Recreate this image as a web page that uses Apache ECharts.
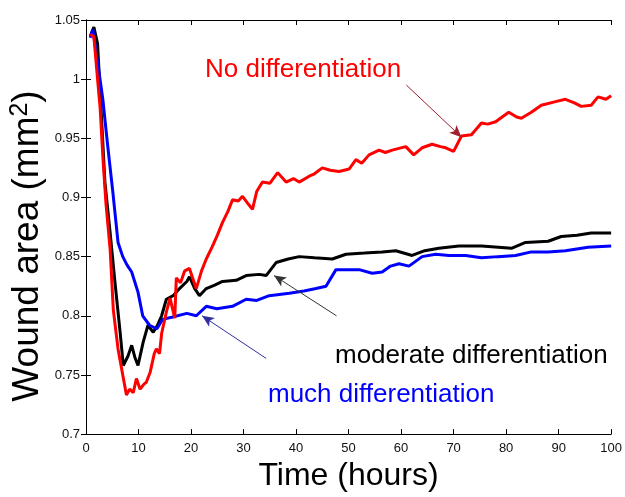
<!DOCTYPE html>
<html>
<head>
<meta charset="utf-8">
<script src="https://cdn.jsdelivr.net/npm/echarts@6/dist/echarts.min.js"></script>
<style>
  html, body { margin: 0; padding: 0; background: #fff; }
  #chart { width: 625px; height: 497px; }
</style>
</head>
<body>
<div id="chart"></div>
<script>
// wound area over time
var timeRed = [0.8,1.5,2.2,2.7,3.2,3.8,4.6,5.2,6.1,7.0,7.7,8.3,9.0,9.6,10.3,11.0,11.5,12.2,13.0,13.4,14.0,14.4,15.3,16.0,16.9,17.2,18.0,18.8,19.7,20.3,21.0,22.0,22.9,24.0,25.0,26.0,27.0,27.9,29.0,29.8,30.8,31.7,32.5,33.6,35.0,36.5,38.1,39.5,40.6,42.5,43.5,45.0,46.5,48.2,50.1,51.4,52.5,53.9,55.8,57.0,58.3,60.9,62.4,64.0,65.9,67.5,68.5,70.0,71.5,73.4,75.3,76.5,78.0,80.5,82.0,82.9,84.8,86.7,89.4,91.3,93.0,94.3,96.2,97.5,99.0,100];
var areaRed = [1.038,1.036,1.0,0.975,0.935,0.895,0.856,0.805,0.772,0.75,0.733,0.738,0.735,0.747,0.738,0.742,0.744,0.752,0.768,0.772,0.768,0.785,0.803,0.815,0.798,0.832,0.828,0.838,0.840,0.832,0.823,0.838,0.848,0.858,0.868,0.879,0.888,0.898,0.897,0.901,0.895,0.89,0.905,0.913,0.912,0.921,0.913,0.916,0.913,0.918,0.92,0.925,0.923,0.922,0.924,0.932,0.929,0.936,0.94,0.938,0.94,0.943,0.936,0.942,0.945,0.943,0.942,0.939,0.952,0.953,0.963,0.962,0.964,0.972,0.968,0.967,0.972,0.978,0.981,0.983,0.98,0.977,0.978,0.985,0.983,0.986];

var timeBlack = [0.8,1.5,2.2,2.8,3.6,4.6,5.5,6.5,7.1,8.0,8.7,9.3,9.9,10.9,11.8,12.8,13.6,14.4,15.3,16.6,17.8,19.2,19.7,20.7,21.6,22.9,24.5,26.0,28.6,30.5,33.0,34.3,36.2,38.5,40.6,43.5,46.9,49.5,53.0,56.4,59.0,62.1,64.5,67.2,71.0,75.3,78.5,81.0,83.7,88.0,90.5,93.5,96.2,100];
var areaBlack = [1.036,1.044,1.03,0.98,0.913,0.87,0.829,0.786,0.758,0.766,0.775,0.765,0.758,0.778,0.792,0.786,0.792,0.80,0.814,0.817,0.823,0.829,0.833,0.823,0.817,0.823,0.826,0.829,0.83,0.834,0.835,0.834,0.845,0.848,0.85,0.849,0.848,0.852,0.853,0.854,0.855,0.851,0.855,0.857,0.859,0.859,0.858,0.857,0.862,0.863,0.867,0.868,0.87,0.87];

var timeBlue = [0.8,1.3,2.2,3.2,4.1,5.1,6.1,7.0,7.8,8.7,9.9,10.8,12.1,13.5,14.6,16.5,19.2,21.0,22.9,24.9,27.9,30.5,32.5,34.9,38.7,41.5,43.8,45.7,47.6,52.0,54.5,56.4,58.0,59.6,61.5,64.0,66.6,69.1,72.3,75.3,78.5,81.8,84.8,88.0,91.3,95.6,100];
var areaBlue = [1.035,1.042,1.015,0.983,0.945,0.905,0.862,0.85,0.843,0.837,0.82,0.80,0.792,0.789,0.797,0.799,0.802,0.80,0.808,0.806,0.808,0.814,0.813,0.817,0.819,0.821,0.823,0.825,0.839,0.839,0.836,0.837,0.842,0.844,0.842,0.85,0.852,0.851,0.851,0.849,0.850,0.851,0.854,0.854,0.855,0.858,0.859];

var xTicks = [0,10,20,30,40,50,60,70,80,90,100];
var yTicks = [0.7,0.75,0.8,0.85,0.9,0.95,1,1.05];

function pairs(xs, ys) {
  return xs.map(function(x, i) { return [x, ys[i]]; });
}

(function() {
  var myChart = echarts.init(document.getElementById("chart"));
  var font = "Liberation Sans, Arial, sans-serif";
  var boxAxis = {
    axisLine: { show: true, lineStyle: { color: "#000", width: 1 } },
    axisTick: { show: true, inside: true, length: 5, lineStyle: { color: "#000" } },
    splitLine: { show: false }
  };

  var option = {
    animation: false,
    backgroundColor: "#fff",
    grid: { left: 86, right: 12, top: 20, bottom: 61 },
    xAxis: [
      Object.assign({
        type: "value", min: 0, max: 100, interval: 10,
        name: "Time (hours)", nameLocation: "middle", nameGap: 25,
        nameTextStyle: { fontSize: 32, fontFamily: font, color: "#000" },
        axisLabel: { fontSize: 13, fontFamily: font, color: "#111", margin: 8,
          formatter: function(v) { return xTicks.indexOf(v) >= 0 ? String(v) : ""; } }
      }, boxAxis),
      Object.assign({
        type: "value", min: 0, max: 100, interval: 10, position: "top",
        axisLabel: { show: false }
      }, boxAxis)
    ],
    yAxis: [
      Object.assign({
        type: "value", min: 0.7, max: 1.05, interval: 0.05,
        axisLabel: { fontSize: 13, fontFamily: font, color: "#111", margin: 6,
          formatter: function(v) {
            var r = Math.round(v * 100) / 100;
            return yTicks.indexOf(r) >= 0 ? String(r) : "";
          } }
      }, boxAxis),
      Object.assign({
        type: "value", min: 0.7, max: 1.05, interval: 0.05, position: "right",
        axisLabel: { show: false }
      }, boxAxis)
    ],
    series: [
      {
        name: "moderate differentiation", type: "line", showSymbol: false,
        data: pairs(timeBlack, areaBlack),
        lineStyle: { color: "#000", width: 3 }, z: 2,
        markLine: {
          silent: true, symbolSize: [8, 12], label: { show: false },
          lineStyle: { color: "#333", width: 1, type: "solid" },
          data: [[{ coord: [47.7, 0.8], symbol: "none" }, { coord: [35.8, 0.834], symbol: "arrow" }]]
        }
      },
      {
        name: "much differentiation", type: "line", showSymbol: false,
        data: pairs(timeBlue, areaBlue),
        lineStyle: { color: "#0000ff", width: 3 }, z: 3,
        markLine: {
          silent: true, symbolSize: [8, 12], label: { show: false },
          lineStyle: { color: "#3030a0", width: 1, type: "solid" },
          data: [[{ coord: [34.3, 0.764], symbol: "none" }, { coord: [22.1, 0.8], symbol: "arrow" }]]
        }
      },
      {
        name: "No differentiation", type: "line", showSymbol: false,
        data: pairs(timeRed, areaRed),
        lineStyle: { color: "#ff0000", width: 3 }, z: 4,
        markLine: {
          silent: true, symbolSize: [8, 12], label: { show: false },
          lineStyle: { color: "#a02030", width: 1, type: "solid" },
          data: [[{ coord: [61.0, 0.995], symbol: "none" }, { coord: [71.5, 0.951], symbol: "arrow" }]]
        }
      }
    ],
    graphic: [
      { type: "text", left: 205, top: 57, style: { text: "No differentiation", fill: "#ff0000", font: "26px " + font } },
      { type: "text", left: 335, top: 343, style: { text: "moderate differentiation", fill: "#000", font: "26px " + font } },
      { type: "text", left: 268, top: 382, style: { text: "much differentiation", fill: "#0000ff", font: "26px " + font } },
      {
        type: "text", x: 48, y: 246, rotation: Math.PI / 2,
        style: {
          text: "Wound area (mm{sup|2})", fill: "#000", font: "37px " + font,
          align: "center", verticalAlign: "bottom",
          rich: { sup: { fontSize: 25, fontFamily: font, fill: "#000", verticalAlign: "top", padding: [0, 0, 15, 0] } }
        }
      }
    ]
  };

  myChart.setOption(option);
})();
</script>
</body>
</html>
